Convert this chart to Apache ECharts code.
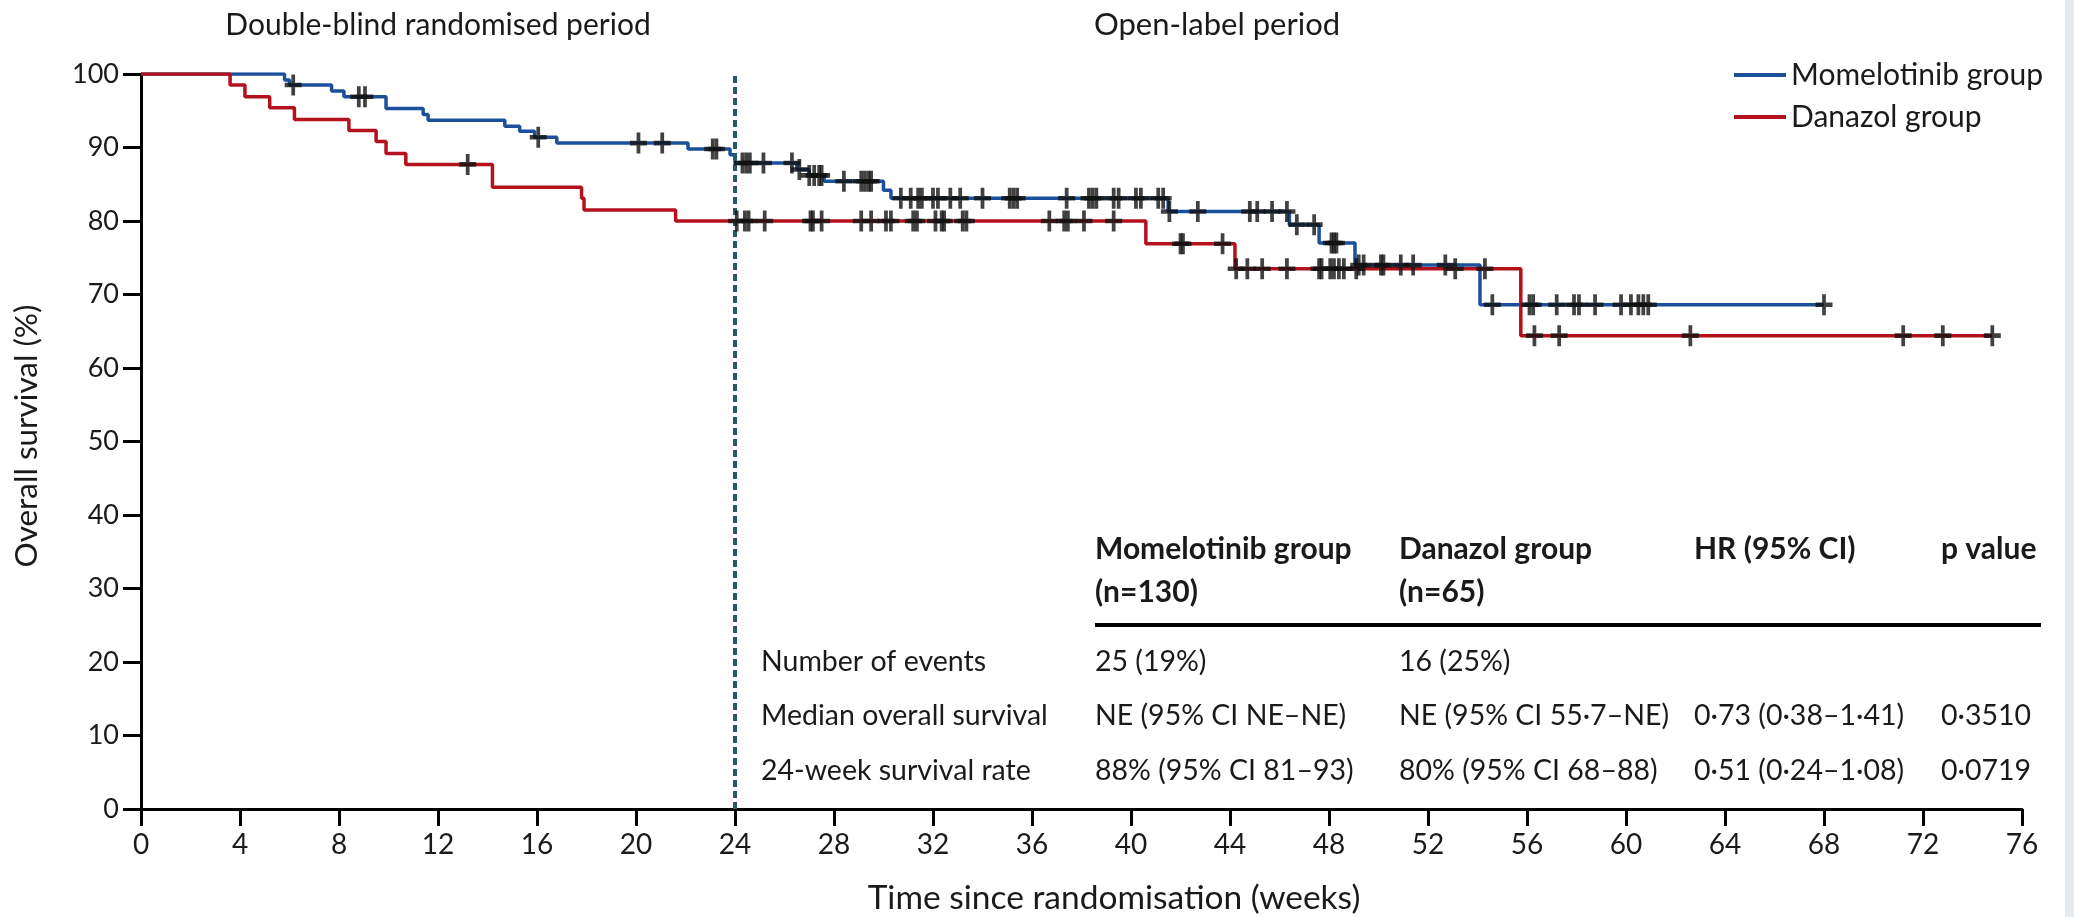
<!DOCTYPE html>
<html>
<head>
<meta charset="utf-8">
<script src="https://cdn.jsdelivr.net/npm/echarts@6/dist/echarts.min.js"></script>
<style>
  html, body { margin: 0; padding: 0; background: #ffffff; }
  #chart { width: 2074px; height: 917px; }
</style>
</head>
<body>
<div id="chart"></div>
<script>
// ---------- data ----------
const seriesNames = ['Momelotinib group', 'Danazol group'];

// Kaplan–Meier steps: [week, survival % after the drop]
const momSteps = [[0,100],[5.8,99.2],[6.0,98.5],[7.7,97.7],[8.2,96.9],[9.9,95.3],[11.4,94.5],[11.6,93.7],
  [14.7,92.9],[15.3,92.2],[15.9,91.4],[16.8,90.6],[22.1,89.8],[23.8,89.0],[24.0,87.9],[26.5,87.0],
  [27.0,86.2],[27.6,85.4],[30.0,84.2],[30.3,83.1],[41.5,81.3],[46.4,79.5],[47.6,77.0],[49.05,74.0],[54.1,68.6]];
const momLastWeek = 68.0;

const danSteps = [[0,100],[3.6,98.5],[4.2,96.9],[5.2,95.4],[6.2,93.8],[8.4,92.3],[9.5,90.8],[9.9,89.2],
  [10.7,87.7],[14.2,84.6],[17.8,83.1],[17.9,81.5],[21.6,80.0],[40.6,76.9],[44.2,73.5],[55.75,64.4]];
const danLastWeek = 74.8;

// Censoring times (weeks)
const momCensor = [6.15,8.8,9.05,16.05,20.1,21.06,23.1,23.25,24.3,24.45,24.6,25.15,26.3,26.6,27.0,27.2,27.4,27.5,
  28.4,29.1,29.25,29.4,29.5,30.7,31.1,31.4,31.55,32.0,32.2,32.7,33.1,34.0,35.1,35.25,35.4,37.4,38.3,38.45,38.6,
  39.3,39.5,40.2,40.4,41.1,41.3,41.55,42.7,44.8,45.1,45.7,46.3,46.7,47.4,48.1,48.2,48.3,49.2,49.4,50.1,50.2,50.9,
  51.4,52.7,54.6,56.1,56.25,57.2,57.9,58.1,58.75,59.8,60.2,60.5,60.7,60.9,68.0];
const danCensor = [13.2,24.07,24.4,24.55,25.2,27.05,27.15,27.5,29.1,29.5,30.1,30.3,31.2,31.35,32.1,32.35,32.45,
  33.2,33.35,36.7,37.3,37.45,38.1,39.3,42.0,42.1,43.7,44.25,44.7,45.3,46.3,47.6,47.7,48.05,48.2,48.4,48.6,49.1,
  53.1,54.3,56.3,57.3,62.6,71.2,72.8,74.8];

const xTicks = { min: 0, max: 76, interval: 4 };
const yTicks = { min: 0, max: 100, interval: 10 };
const periodSplitWeek = 24;

// Table
const tableHeader1 = ['Momelotinib group', 'Danazol group', 'HR (95% CI)', 'p value'];
const tableHeader2 = ['(n=130)', '(n=65)', '', ''];
const tableRowLabels = ['Number of events', 'Median overall survival', '24-week survival rate'];
const tableCells = [
  ['25 (19%)', '16 (25%)', '', ''],
  ['NE (95% CI NE–NE)', 'NE (95% CI 55·7–NE)', '0·73 (0·38–1·41)', '0·3510'],
  ['88% (95% CI 81–93)', '80% (95% CI 68–88)', '0·51 (0·24–1·08)', '0·0719']
];

// ---------- helpers ----------
function kmCurve(steps, lastWeek) {
  const d = steps.map(p => [p[0], p[1]]);
  d.push([lastWeek, steps[steps.length - 1][1]]);
  return d;
}
function survAt(steps, t) {
  let s = steps[0][1];
  for (const p of steps) { if (p[0] <= t) s = p[1]; }
  return s;
}
const FONT = 'Lato, "Open Sans", sans-serif';
const TXT = '#1a1a1a';
const BLUE = '#1c4f9c';
const RED = '#b3121c';
const plusPath = 'path://M3.9,0H6.1V3.9H10V6.1H6.1V10H3.9V6.1H0V3.9H3.9Z';

// ---------- table graphics ----------
const colX = [1095, 1399, 1694, 1941];
const rowY = [662, 716, 771];
const graphics = [];
function txt(x, y, text, opts) {
  graphics.push({
    type: 'text', x: x, y: y, silent: true,
    style: Object.assign({ text: text, fill: TXT, font: '28.5px ' + FONT, textAlign: 'left', textVerticalAlign: 'middle' }, opts || {})
  });
}
tableHeader1.forEach((h, i) => txt(colX[i], 549, h, { font: 'bold 30px ' + FONT }));
tableHeader2.forEach((h, i) => { if (h) txt(colX[i], 592, h, { font: 'bold 30px ' + FONT }); });
graphics.push({ type: 'line', silent: true, shape: { x1: 1095, y1: 625, x2: 2041, y2: 625 }, style: { stroke: '#000', lineWidth: 4 } });
tableRowLabels.forEach((l, r) => {
  txt(761, rowY[r], l);
  tableCells[r].forEach((c, i) => { if (c) txt(colX[i], rowY[r], c); });
});
// period labels & axis titles
txt(438, 25, 'Double-blind randomised period', { font: '30px ' + FONT, textAlign: 'center' });
txt(1217, 25, 'Open-label period', { font: '31px ' + FONT, textAlign: 'center' });
txt(1114, 898, 'Time since randomisation (weeks)', { font: '33.5px ' + FONT, textAlign: 'center' });
graphics.push({
  type: 'text', x: 27, y: 436, rotation: Math.PI / 2, silent: true,
  style: { text: 'Overall survival (%)', fill: TXT, font: '31.5px ' + FONT, textAlign: 'center', textVerticalAlign: 'middle' }
});
// right page band
graphics.push({ type: 'rect', silent: true, shape: { x: 2065, y: 0, width: 9, height: 917 }, style: { fill: '#e5eaf1' } });

// ---------- chart ----------
const chart = echarts.init(document.getElementById('chart'), null, { renderer: 'canvas' });
const axisLine = { show: true, lineStyle: { color: '#000', width: 3 } };
chart.setOption({
  animation: false,
  backgroundColor: '#ffffff',
  grid: { left: 141, right: 52, top: 74, bottom: 108, containLabel: false },
  legend: {
    data: seriesNames, orient: 'vertical', left: 1729, top: 54,
    icon: 'rect', itemWidth: 52, itemHeight: 4, itemGap: 10,
    textStyle: { fontFamily: FONT, fontSize: 30, color: TXT, lineHeight: 32 }
  },
  xAxis: {
    type: 'value', min: xTicks.min, max: xTicks.max, interval: xTicks.interval,
    axisLine: axisLine, splitLine: { show: false },
    axisTick: { show: true, inside: false, length: 17, lineStyle: { color: '#000', width: 3 } },
    axisLabel: { fontFamily: FONT, fontSize: 28, color: TXT, margin: 22 }
  },
  yAxis: {
    type: 'value', min: yTicks.min, max: yTicks.max, interval: yTicks.interval,
    axisLine: axisLine, splitLine: { show: false },
    axisTick: { show: true, inside: false, length: 18, lineStyle: { color: '#000', width: 3 } },
    axisLabel: { fontFamily: FONT, fontSize: 27, color: TXT, margin: 22 }
  },
  graphic: graphics,
  series: [
    {
      name: seriesNames[0], type: 'line', step: 'end', showSymbol: false, z: 3,
      color: BLUE, lineStyle: { color: BLUE, width: 3.5 },
      data: kmCurve(momSteps, momLastWeek),
      markLine: {
        silent: true, symbol: ['none', 'none'], label: { show: false },
        lineStyle: { color: '#2a5866', width: 4, type: [7, 4] },
        data: [{ xAxis: periodSplitWeek }]
      }
    },
    {
      name: seriesNames[1], type: 'line', step: 'end', showSymbol: false, z: 3,
      color: RED, lineStyle: { color: RED, width: 3.5 },
      data: kmCurve(danSteps, danLastWeek)
    },
    {
      name: 'Momelotinib censored', type: 'scatter', z: 5, symbol: plusPath, symbolSize: [17, 21],
      itemStyle: { color: '#111' },
      data: momCensor.map(t => [t, survAt(momSteps, t)])
    },
    {
      name: 'Danazol censored', type: 'scatter', z: 5, symbol: plusPath, symbolSize: [17, 21],
      itemStyle: { color: '#111' },
      data: danCensor.map(t => [t, survAt(danSteps, t)])
    }
  ]
});
</script>
</body>
</html>
